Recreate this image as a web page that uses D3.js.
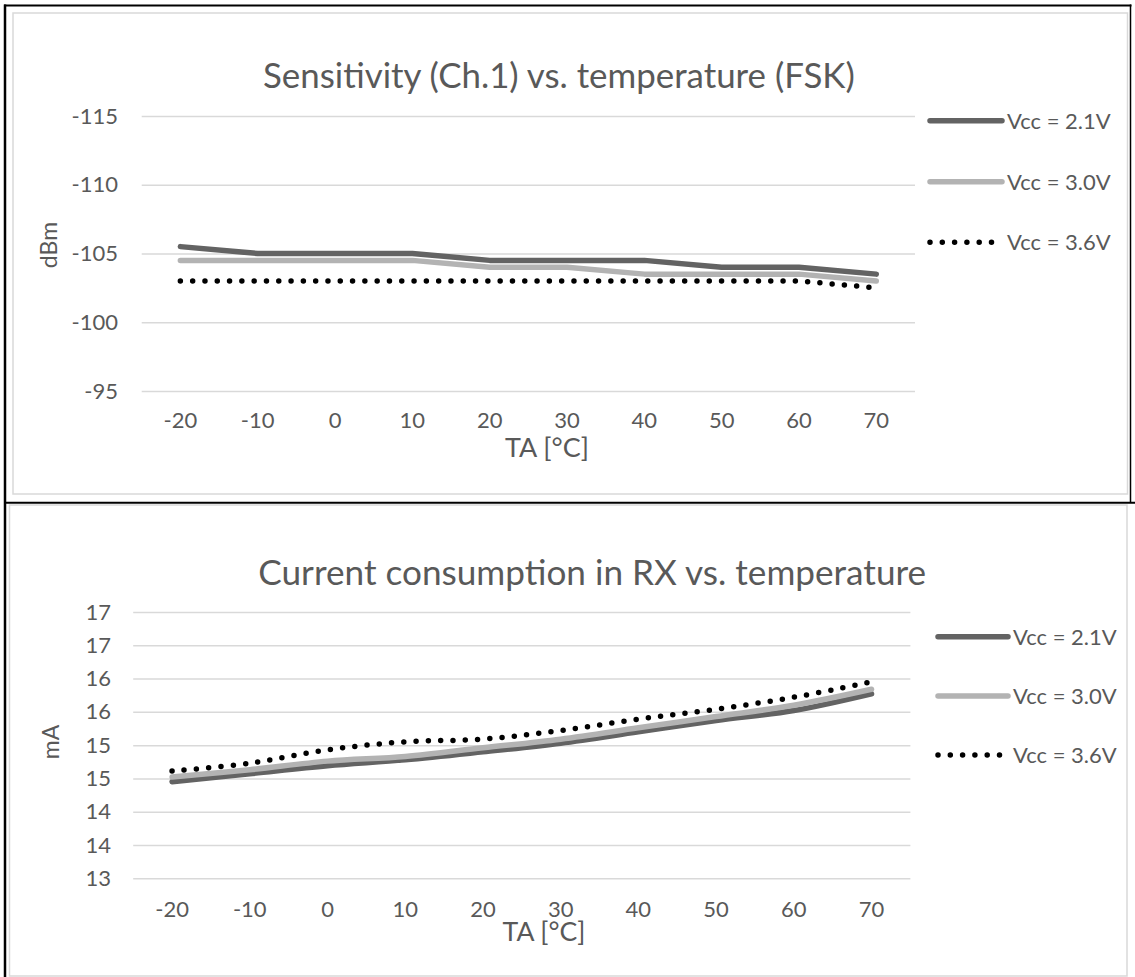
<!DOCTYPE html>
<html><head><meta charset="utf-8">
<script src="https://cdn.jsdelivr.net/npm/d3@7"></script>
<style>
body{margin:0;background:#fff}
svg{display:block}
text{font-family:Lato,"Open Sans",sans-serif;fill:#595959}
</style>
</head><body>
<svg id="c" width="1135" height="977"></svg>
<script>
// ---- data ----
const temps = [-20, -10, 0, 10, 20, 30, 40, 50, 60, 70];
const seriesNames = ["Vcc = 2.1V", "Vcc = 3.0V", "Vcc = 3.6V"];
const sens21 = [-105.5, -105, -105, -105, -104.5, -104.5, -104.5, -104, -104, -103.5];
const sens30 = [-104.5, -104.5, -104.5, -104.5, -104, -104, -103.5, -103.5, -103.5, -103];
const sens36 = [-103, -103, -103, -103, -103, -103, -103, -103, -103, -102.5];
const cur21 = [14.45, 14.57, 14.69, 14.78, 14.90, 15.03, 15.20, 15.37, 15.52, 15.77];
const cur30 = [14.52, 14.63, 14.76, 14.83, 14.96, 15.09, 15.26, 15.43, 15.60, 15.84];
const cur36 = [14.61, 14.73, 14.93, 15.05, 15.09, 15.22, 15.39, 15.54, 15.72, 15.95];
const sensTicks = [-115, -110, -105, -100, -95];
const curTicks = [13, 13.5, 14, 14.5, 15, 15.5, 16, 16.5, 17];
const titles = ["Sensitivity (Ch.1) vs. temperature (FSK)", "Current consumption in RX vs. temperature"];
const yTitles = ["dBm", "mA"];
const xTitle = "TA [°C]";

const svg = d3.select("#c");
const styles = [
  {stroke: "#636363", dash: null},
  {stroke: "#b3b3b3", dash: null},
  {stroke: "#000000", dash: "0 12.3"}
];
const fmt = d => Number(d).toFixed(0);

// frames
const frame = svg.append("g");
frame.append("rect").attr("x", 13).attr("y", 13).attr("width", 1114.5).attr("height", 481)
  .attr("fill", "none").attr("stroke", "#d9d9d9").attr("stroke-width", 1.5);
frame.append("rect").attr("x", 9.5).attr("y", 505).attr("width", 1117.5).attr("height", 471)
  .attr("fill", "none").attr("stroke", "#d9d9d9").attr("stroke-width", 1.5);
frame.append("line").attr("x1", 4).attr("x2", 1131.5).attr("y1", 5.5).attr("y2", 5.5).attr("stroke", "#000").attr("stroke-width", 2);
frame.append("line").attr("x1", 5).attr("x2", 5).attr("y1", 4.5).attr("y2", 977).attr("stroke", "#000").attr("stroke-width", 2.5);
frame.append("line").attr("x1", 1130.5).attr("x2", 1130.5).attr("y1", 4.5).attr("y2", 503).attr("stroke", "#000").attr("stroke-width", 1.5);
frame.append("line").attr("x1", 4).attr("x2", 1135).attr("y1", 502.8).attr("y2", 502.8).attr("stroke", "#000").attr("stroke-width", 2);

function fitWidth(sel, w) {
  const l = sel.node().getComputedTextLength();
  const fs = parseFloat(sel.attr("font-size"));
  sel.attr("font-size", fs * w / l);
}

function drawChart(cfg) {
  const g = svg.append("g");
  const x = d3.scaleBand().domain(temps).range([cfg.x0, cfg.x1]);
  const y = d3.scaleLinear().domain(cfg.yDomain).range([cfg.yTop, cfg.yBot]);
  const cx = d => x(d) + x.bandwidth() / 2;

  // gridlines + y labels
  const yAxis = d3.axisLeft(y).tickValues(cfg.ticks).tickFormat(fmt)
    .tickSize(-(cfg.x1 - cfg.x0)).tickPadding(cfg.x0 - cfg.labelRight);
  const ya = g.append("g").attr("transform", `translate(${cfg.x0},0)`).call(yAxis);
  ya.select(".domain").remove();
  ya.selectAll(".tick line").attr("stroke", "#d9d9d9").attr("stroke-width", 1.5);
  ya.selectAll(".tick text").attr("font-size", 22).attr("fill", "#595959")
    .style("font-family", "Lato, 'Open Sans', sans-serif");

  // x labels
  const xAxis = d3.axisBottom(x).tickSize(0).tickPadding(0).tickFormat(fmt);
  const xa = g.append("g").attr("transform", `translate(0,${cfg.xLabelBase})`).call(xAxis);
  xa.select(".domain").remove();
  xa.selectAll(".tick text").attr("dy", 0).attr("font-size", 22).attr("fill", "#595959")
    .style("font-family", "Lato, 'Open Sans', sans-serif");

  // titles
  const t = g.append("text").attr("x", cfg.titleX).attr("y", cfg.titleBase)
    .attr("font-size", 32).text(cfg.title);
  fitWidth(t, cfg.titleW);
  const xt = g.append("text").attr("x", cfg.xTitleX).attr("y", cfg.xTitleBase)
    .attr("text-anchor", "middle").attr("font-size", 24).text(xTitle);
  fitWidth(xt, cfg.xTitleW);
  g.append("text").attr("transform", `translate(${cfg.yTitleX},${cfg.yTitleY}) rotate(-90)`)
    .attr("text-anchor", "middle").attr("font-size", 23).text(cfg.yTitle);

  // lines
  const line = d3.line().x((d, i) => cx(temps[i])).y(d => y(d)).curve(cfg.curve);
  cfg.series.forEach((s, i) => {
    g.append("path").attr("d", line(s)).attr("fill", "none")
      .attr("stroke", styles[i].stroke).attr("stroke-width", 5.5)
      .attr("stroke-linecap", "round").attr("stroke-linejoin", "round")
      .attr("stroke-dasharray", styles[i].dash);
  });

  // legend
  seriesNames.forEach((n, i) => {
    const ly = cfg.legendY[i];
    g.append("line").attr("x1", cfg.legX0).attr("x2", cfg.legX1).attr("y1", ly).attr("y2", ly)
      .attr("stroke", styles[i].stroke).attr("stroke-width", 5.5)
      .attr("stroke-linecap", "round").attr("stroke-dasharray", styles[i].dash);
    g.append("text").attr("x", cfg.legX1 + 5).attr("y", ly).attr("dy", "0.36em")
      .attr("font-size", 22).text(n);
  });
}

drawChart({
  x0: 141.7, x1: 915, yDomain: [-115, -95], yTop: 116, yBot: 391, ticks: sensTicks,
  labelRight: 118, xLabelBase: 428, title: titles[0], titleX: 263, titleBase: 88.3, titleW: 592,
  xTitleX: 547, xTitleBase: 457, xTitleW: 84, yTitle: yTitles[0], yTitleX: 57, yTitleY: 245,
  series: [sens21, sens30, sens36], curve: d3.curveLinear,
  legendY: [120.7, 181.7, 242.3], legX0: 930, legX1: 1002
});
drawChart({
  x0: 133.2, x1: 910.4, yDomain: [17, 13], yTop: 612, yBot: 878.3, ticks: curTicks,
  labelRight: 111, xLabelBase: 917, title: titles[1], titleX: 258.3, titleBase: 585, titleW: 668,
  xTitleX: 544, xTitleBase: 941, xTitleW: 83, yTitle: yTitles[1], yTitleX: 59, yTitleY: 742,
  series: [cur21, cur30, cur36], curve: d3.curveCatmullRom,
  legendY: [636.7, 696, 755], legX0: 938, legX1: 1008
});
</script>
</body></html>
